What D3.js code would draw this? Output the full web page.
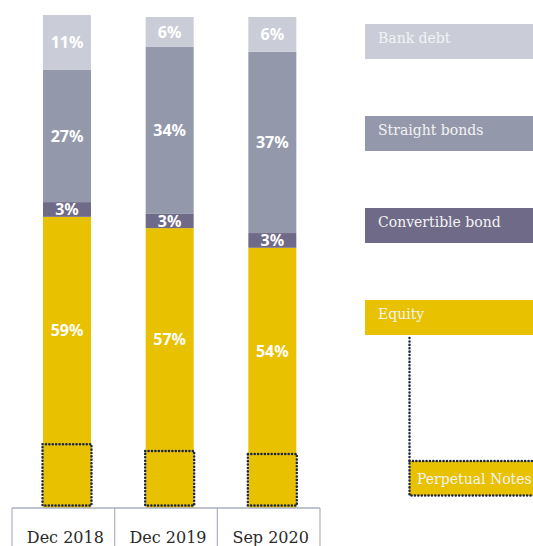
<!DOCTYPE html>
<html>
  <script src="https://d3js.org/d3.v7.min.js"></script>
  <style>
    body { margin: 0; background: #fff; }
  </style>
  <body>
    <svg id="vis" width="533" height="546"></svg>
    <script>
      // values (percent of total)
      categories = ["Dec 2018", "Dec 2019", "Sep 2020"]
      bankDebt = [11.2, 6.1, 7.1]
      straightBonds = [26.9, 34.0, 36.9]
      convertible = [3.0, 2.9, 3.0]
      equity = [59.3, 57.0, 53.0]
      perpetual = [13.0, 11.6, 11.0]   // part of equity

      bankLabel = ["11%", "6%", "6%"]
      straightLabel = ["27%", "34%", "37%"]
      convLabel = ["3%", "3%", "3%"]
      equityLabel = ["59%", "57%", "54%"]

      seriesNames = ["Bank debt", "Straight bonds", "Convertible bond", "Equity"]
      colors = ["#cacdd8", "#9399ab", "#6f6a88", "#e8c100"]
      dotColor = "#1c2745"

      var svg = d3.select("#vis")

      var x = d3.scaleBand()
        .domain(categories)
        .range([12, 320])

      var y = d3.scaleLinear()
        .domain([0, 100])
        .range([508, 17])

      barW = 48
      barOff = 31

      // stack bottom-up: equity, convertible, straight, bank
      var rows = categories.map((c, i) => ({
        cat: c,
        "Equity": equity[i],
        "Convertible bond": convertible[i],
        "Straight bonds": straightBonds[i],
        "Bank debt": bankDebt[i]
      }))
      var stack = d3.stack().keys(["Equity", "Convertible bond", "Straight bonds", "Bank debt"])(rows)
      var labels = {
        "Equity": equityLabel,
        "Convertible bond": convLabel,
        "Straight bonds": straightLabel,
        "Bank debt": bankLabel
      }

      stack.forEach(layer => {
        var col = colors[seriesNames.indexOf(layer.key)]
        svg.append("g").selectAll("rect")
          .data(layer)
          .join("rect")
          .attr("x", d => x(d.data.cat) + barOff)
          .attr("y", d => y(d[1]))
          .attr("width", barW)
          .attr("height", d => y(d[0]) - y(d[1]))
          .style("fill", col)
      })

      // dotted line style
      dotted = sel => sel
        .style("stroke", dotColor)
        .style("stroke-width", 2.5)
        .style("stroke-linecap", "round")
        .style("stroke-dasharray", "0.1 3.3")

      // perpetual notes: dotted outline at the bottom of equity
      svg.append("g").selectAll("rect")
        .data(categories)
        .join("rect")
        .attr("x", d => x(d) + barOff - 0.5)
        .attr("y", (d, i) => y(perpetual[i]))
        .attr("width", barW + 1)
        .attr("height", (d, i) => y(0) - y(perpetual[i]) - 2.5)
        .style("fill", "none")
        .call(dotted)

      // value labels
      stack.forEach(layer => {
        var lab = labels[layer.key]
        svg.append("g").selectAll("text")
          .data(layer)
          .join("text")
          .attr("x", d => x(d.data.cat) + barOff + barW / 2)
          .attr("y", (d, i) => {
            var lo = layer.key === "Equity" ? perpetual[i] : d[0]
            return (y(lo) + y(d[1])) / 2
          })
          .attr("dy", "0.36em")
          .text((d, i) => lab[i])
          .style("text-anchor", "middle")
          .style("fill", "#fff")
          .style("font-family", "'Noto Sans', sans-serif")
          .style("font-weight", "bold")
          .style("font-size", "16px")
      })

      // axis
      svg.append("line")
        .attr("x1", x.range()[0])
        .attr("x2", x.range()[1])
        .attr("y1", y(0))
        .attr("y2", y(0))
        .style("stroke", "#aab0c0")
        .style("stroke-width", 1.5)

      var seps = categories.map(c => x(c)).concat([x.range()[1]])
      svg.append("g").selectAll("line")
        .data(seps)
        .join("line")
        .attr("x1", d => d)
        .attr("x2", d => d)
        .attr("y1", y(0))
        .attr("y2", 546)
        .style("stroke", "#aab0c0")
        .style("stroke-width", 1.2)

      svg.append("g").selectAll("text")
        .data(categories)
        .join("text")
        .attr("x", d => x(d) + x.bandwidth() / 2 + 2)
        .attr("y", 543)
        .text(d => d)
        .style("text-anchor", "middle")
        .style("fill", "#2a2a2a")
        .style("font-family", "'DejaVu Serif', serif")
        .style("font-size", "16px")

      // legend
      var ly = d3.scalePoint().domain(seriesNames).range([24, 300])
      var lg = svg.append("g").selectAll("g")
        .data(seriesNames)
        .join("g")
        .attr("transform", d => `translate(365,${ly(d)})`)
      lg.append("rect")
        .attr("width", 170)
        .attr("height", 35)
        .style("fill", (d, i) => colors[i])
      lg.append("text")
        .attr("x", 13)
        .attr("y", 19)
        .text(d => d)
        .style("fill", "#f3f3f5")
        .style("font-family", "'DejaVu Serif', serif")
        .style("font-size", "14px")

      // perpetual notes legend with dotted connector
      svg.append("line")
        .attr("x1", 409.5)
        .attr("x2", 409.5)
        .attr("y1", ly("Equity") + 38)
        .attr("y2", 461)
        .call(dotted)

      svg.append("rect")
        .attr("x", 409.5)
        .attr("y", 461)
        .attr("width", 130)
        .attr("height", 34.5)
        .style("fill", colors[3])
        .call(dotted)

      svg.append("text")
        .attr("x", 417)
        .attr("y", 484)
        .text("Perpetual Notes")
        .style("fill", "#f3f3f5")
        .style("font-family", "'DejaVu Serif', serif")
        .style("font-size", "14px")
    </script>
  </body>
</html>
